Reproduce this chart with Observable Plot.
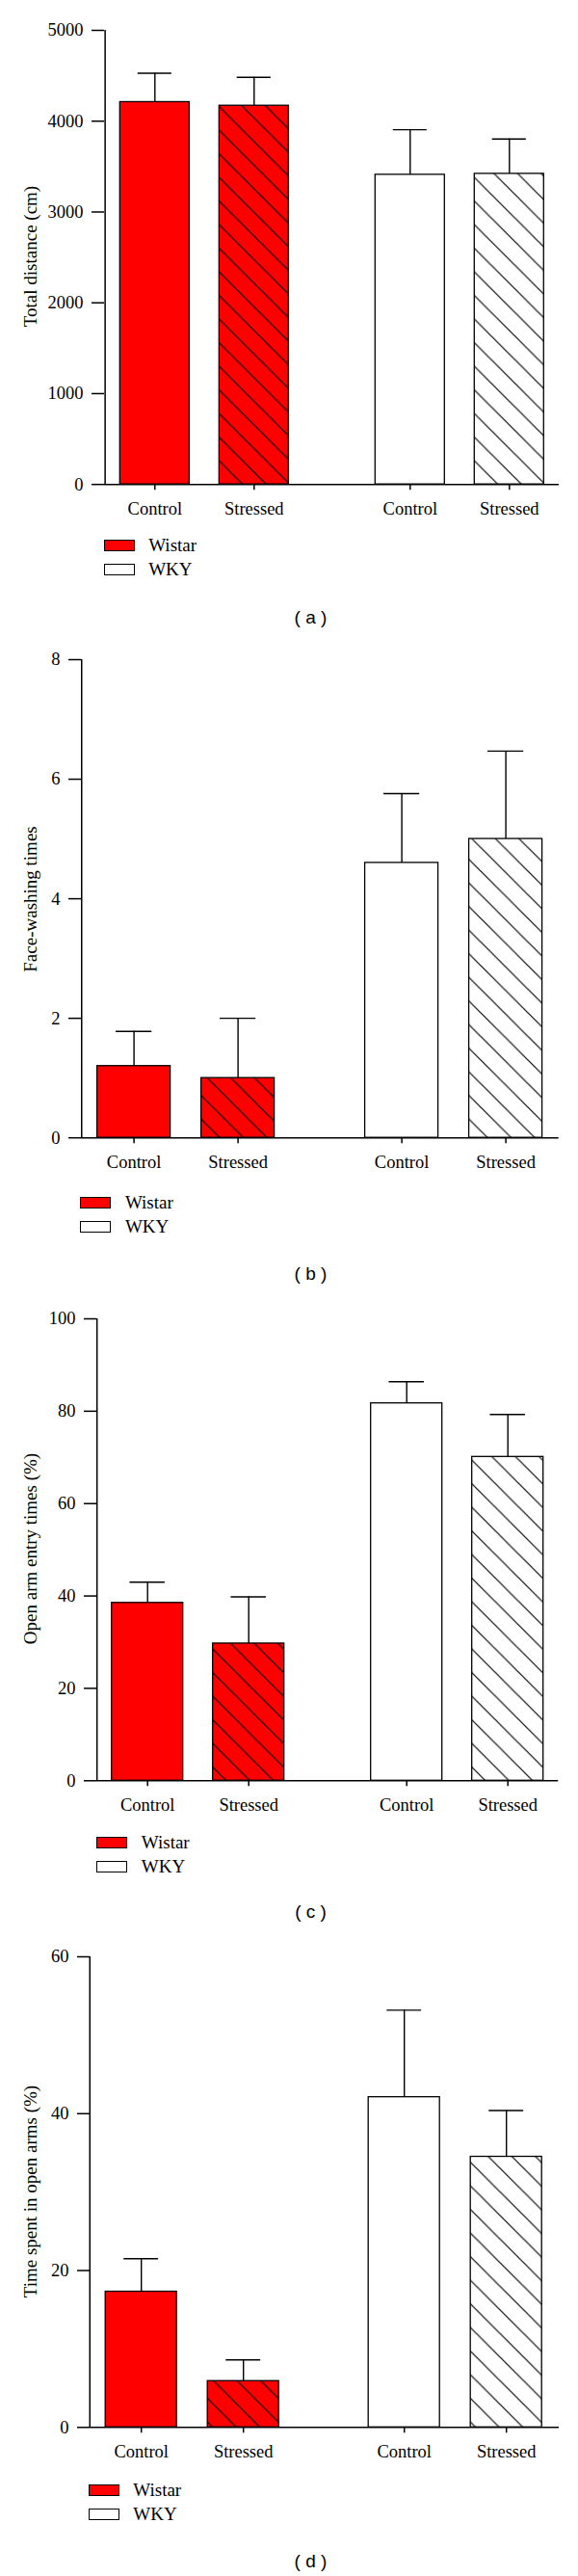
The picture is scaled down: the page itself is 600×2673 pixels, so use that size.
<!DOCTYPE html>
<html><head><meta charset="utf-8">
<script src="https://cdn.jsdelivr.net/npm/d3@7"></script>
<script src="https://cdn.jsdelivr.net/npm/@observablehq/plot@0.6"></script>
<style>
body{margin:0;background:#fff;}
#page{position:relative;width:600px;height:2673px;overflow:hidden;font-family:"Liberation Serif","Times New Roman",serif;color:#000;background:#fff;}
#page svg{position:absolute;left:0;}
.ylab{position:absolute;white-space:nowrap;font-size:19px;line-height:1;transform:translate(-50%,-50%) rotate(-90deg);}
.sw{position:absolute;box-sizing:border-box;width:32px;height:12px;border:1.3px solid #000;}
.lt{position:absolute;font-size:19px;line-height:1;white-space:nowrap;}
.cap{position:absolute;font-family:"Liberation Sans",Arial,sans-serif;font-size:19px;line-height:1;white-space:pre;transform:translate(-50%,-50%);}
</style></head><body><div id="page"></div>
<script>
// ---------- data ----------
const strains = ["Wistar", "WKY"];
const conditions = ["Control", "Stressed"];
const legendLabels = ["Wistar", "WKY"];
const captions = ["( a )", "( b )", "( c )", "( d )"];

// order of values: Wistar Control, Wistar Stressed, WKY Control, WKY Stressed
const distanceMean = [4210, 4170, 3410, 3420];
const distanceErr  = [318, 313, 496, 384];
const distanceTicks = [0, 1000, 2000, 3000, 4000, 5000];

const faceWashMean = [1.2, 1.0, 4.6, 5.0];
const faceWashErr  = [0.58, 1.0, 1.16, 1.47];
const faceWashTicks = [0, 2, 4, 6, 8];

const openEntryMean = [38.5, 29.7, 81.7, 70.1];
const openEntryErr  = [4.5, 10.1, 4.7, 9.2];
const openEntryTicks = [0, 20, 40, 60, 80, 100];

const openTimeMean = [17.3, 5.9, 42.1, 34.5];
const openTimeErr  = [4.2, 2.7, 11.1, 5.9];
const openTimeTicks = [0, 20, 40, 60];

const yLabels = ["Total distance (cm)", "Face-washing times", "Open arm entry times (%)", "Time spent in open arms (%)"];

// ---------- layout (pixels) ----------
const layouts = [
  {yTop: 30.5,   yZero: 501.7,  axisX: 107.7, legendTop: 560,    capY: 640},
  {yTop: 684.4,  yZero: 1180.6, axisX: 83.4,  legendTop: 1242,   capY: 1320.5},
  {yTop: 1367.6, yZero: 1846.9, axisX: 100.3, legendTop: 1906,   capY: 1983},
  {yTop: 2029.9, yZero: 2518.2, axisX: 91.8,  legendTop: 2578,   capY: 2657}
];
const PF = 0.22, PX = 0.3, POX = 0.15, MR = 20.5, MT = 25, MB = 50;
const RED = "#ff0000";

const page = document.getElementById("page");

function makePanel(idx, means, errs, ticks, ylabel) {
  const L = layouts[idx];
  const rows = [];
  strains.forEach((s, i) => conditions.forEach((c, j) => {
    const k = i * conditions.length + j;
    rows.push({strain: s, cond: c, mean: means[k], err: errs[k]});
  }));
  const H = L.yZero - L.yTop + MT + MB;
  const ml = L.axisX;
  const W = 600 - ml - MR;
  const stepF = W / (2 - PF);
  const gap = stepF * PF;
  const B = stepF * (1 - PF);
  const stepX = B / (2 - PX + 2 * POX);
  const bw = stepX * (1 - PX);
  const capInset = bw * 0.255;
  const pid = "hatch" + idx;
  const yMax = ticks[ticks.length - 1];

  const plot = Plot.plot({
    width: 600, height: H,
    marginTop: MT, marginBottom: MB, marginLeft: ml, marginRight: MR,
    style: {fontFamily: "'Liberation Serif', 'Times New Roman', serif", fontSize: "18.5px", color: "#000", background: "transparent", overflow: "visible"},
    fx: {domain: strains, axis: null, paddingInner: PF, paddingOuter: 0},
    x: {domain: conditions, paddingInner: PX, paddingOuter: POX},
    y: {domain: [0, yMax]},
    color: {domain: strains, range: [RED, "#ffffff"]},
    marks: [
      Plot.barY(rows, {fx: "strain", x: "cond", y: "mean", fill: "strain"}),
      Plot.barY(rows.filter(d => d.cond === "Stressed"), {fx: "strain", x: "cond", y: "mean", fill: `url(#${pid})`}),
      Plot.barY(rows, {fx: "strain", x: "cond", y: "mean", fill: "none", stroke: "#000", strokeWidth: 1.3}),
      Plot.ruleX(rows, {fx: "strain", x: "cond", y1: "mean", y2: d => d.mean + d.err, stroke: "#000", strokeWidth: 1.4}),
      Plot.tickY(rows, {fx: "strain", x: "cond", y: d => d.mean + d.err, insetLeft: capInset, insetRight: capInset, stroke: "#000", strokeWidth: 1.4}),
      Plot.ruleY([0], {fx: ["Wistar"], insetRight: -(gap + B), stroke: "#000", strokeWidth: 1.5}),
      Plot.ruleX([{strain: "Wistar", cond: "Control"}], {fx: "strain", x: "cond", y1: 0, y2: yMax, dx: -(POX * stepX + bw / 2), stroke: "#000", strokeWidth: 1.5}),
      Plot.axisY({ticks: ticks, tickSize: 13, tickPadding: 9, tickFormat: d => String(d), label: null, strokeWidth: 1.5}),
      Plot.axisX({tickSize: 6, tickPadding: 12, label: null, strokeWidth: 1.5})
    ]
  });

  // hatch pattern
  const svg = plot.tagName.toLowerCase() === "svg" ? plot : plot.querySelector("svg");
  const s = 24.5;
  const defs = d3.select(svg).insert("defs", ":first-child");
  defs.append("pattern")
    .attr("id", pid).attr("patternUnits", "userSpaceOnUse")
    .attr("width", s).attr("height", s)
    .append("path")
    .attr("d", `M${-s/4},${3*s/4} L${s/4},${5*s/4} M0,0 L${s},${s} M${3*s/4},${-s/4} L${5*s/4},${s/4}`)
    .attr("stroke", "#000").attr("stroke-width", 1.2).attr("fill", "none");

  plot.style.position = "absolute";
  plot.style.left = "0px";
  plot.style.top = (L.yTop - MT) + "px";
  page.appendChild(plot);

  // y label
  const yl = document.createElement("div");
  yl.className = "ylab";
  yl.textContent = ylabel;
  yl.style.left = "31px";
  yl.style.top = ((L.yTop + L.yZero) / 2) + "px";
  page.appendChild(yl);

  // legend
  legendLabels.forEach((lab, i) => {
    const top = L.legendTop + i * 24.5;
    const sw = document.createElement("div");
    sw.className = "sw";
    sw.style.left = L.axisX + "px";
    sw.style.top = top + "px";
    sw.style.background = i === 0 ? RED : "#fff";
    page.appendChild(sw);
    const t = document.createElement("div");
    t.className = "lt";
    t.textContent = lab;
    t.style.left = (L.axisX + 46.5) + "px";
    t.style.top = (top + 12 - 15.9) + "px";
    page.appendChild(t);
  });

  // caption
  const cap = document.createElement("div");
  cap.className = "cap";
  cap.textContent = captions[idx];
  cap.style.left = "322.5px";
  cap.style.top = L.capY + "px";
  page.appendChild(cap);
}

makePanel(0, distanceMean, distanceErr, distanceTicks, yLabels[0]);
makePanel(1, faceWashMean, faceWashErr, faceWashTicks, yLabels[1]);
makePanel(2, openEntryMean, openEntryErr, openEntryTicks, yLabels[2]);
makePanel(3, openTimeMean, openTimeErr, openTimeTicks, yLabels[3]);
</script>
</body></html>
